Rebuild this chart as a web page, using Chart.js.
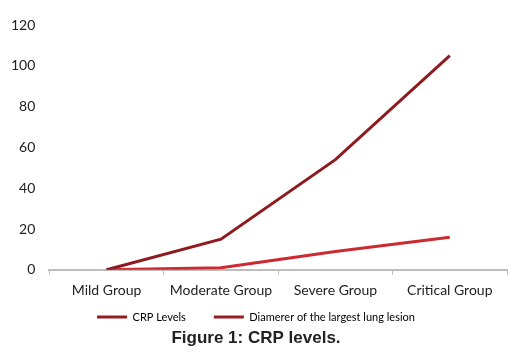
<!DOCTYPE html>
<html>
<head>
<meta charset="utf-8">
<script src="https://cdn.jsdelivr.net/npm/chart.js@4/dist/chart.umd.min.js"></script>
<style>
  html, body { margin: 0; padding: 0; background: #fff; }
  #wrap { width: 527px; height: 358px; }
</style>
</head>
<body>
<div id="wrap"><canvas id="chart" width="527" height="358"></canvas></div>
<script>
const groups = ['Mild Group', 'Moderate Group', 'Severe Group', 'Critical Group'];
const crpLevels = [0, 15, 54, 105];
const lesionDiameter = [0, 1, 9, 16];
const yTicks = [0, 20, 40, 60, 80, 100, 120];

const legendColor = '#951c21';

const ctx = document.getElementById('chart');
new Chart(ctx, {
  type: 'line',
  data: {
    labels: groups,
    datasets: [
      {
        label: 'CRP Levels',
        data: crpLevels,
        borderColor: '#8e1b1f',
        borderWidth: 3,
        pointRadius: 0,
        tension: 0
      },
      {
        label: 'Diamerer of the largest lung lesion',
        data: lesionDiameter,
        borderColor: '#cc2a30',
        borderWidth: 3,
        pointRadius: 0,
        tension: 0
      }
    ]
  },
  options: {
    responsive: false,
    animation: false,
    devicePixelRatio: 1,
    layout: { padding: { top: 25, right: 20, left: 5, bottom: 3 } },
    scales: {
      x: {
        offset: true,
        grid: {
          offset: true,
          drawOnChartArea: false,
          drawTicks: true,
          tickLength: 5,
          color: '#bdbdbd'
        },
        border: { color: '#bdbdbd', width: 2 },
        ticks: {
          color: '#222',
          font: { family: 'Lato', size: 14 },
          padding: 7,
          maxRotation: 0
        }
      },
      y: {
        min: 0,
        max: 120,
        afterBuildTicks: (axis) => { axis.ticks = yTicks.map(v => ({ value: v })); },
        grid: { display: false },
        border: { display: false },
        ticks: {
          color: '#222',
          font: { family: 'Lato', size: 14 },
          padding: 6
        }
      }
    },
    plugins: {
      legend: {
        position: 'bottom',
        labels: {
          boxWidth: 30,
          boxHeight: 3,
          color: '#222',
          font: { family: 'Lato', size: 11 },
          padding: 6,
          // extra gap after the first entry, like the original
          generateLabels: (chart) => chart.data.datasets.map((ds, i) => ({
            text: i === 0 ? ds.label + '\u2003\u2003\u2002' : ds.label,
            fillStyle: legendColor,
            strokeStyle: legendColor,
            lineWidth: 0,
            hidden: !chart.isDatasetVisible(i),
            datasetIndex: i
          }))
        }
      },
      title: {
        display: true,
        position: 'bottom',
        text: 'Figure 1: CRP levels.',
        color: '#222',
        font: { family: 'Liberation Sans', size: 17, weight: 'bold' },
        padding: { top: -4, bottom: 6 }
      },
      tooltip: { enabled: false }
    }
  }
});
</script>
</body>
</html>
